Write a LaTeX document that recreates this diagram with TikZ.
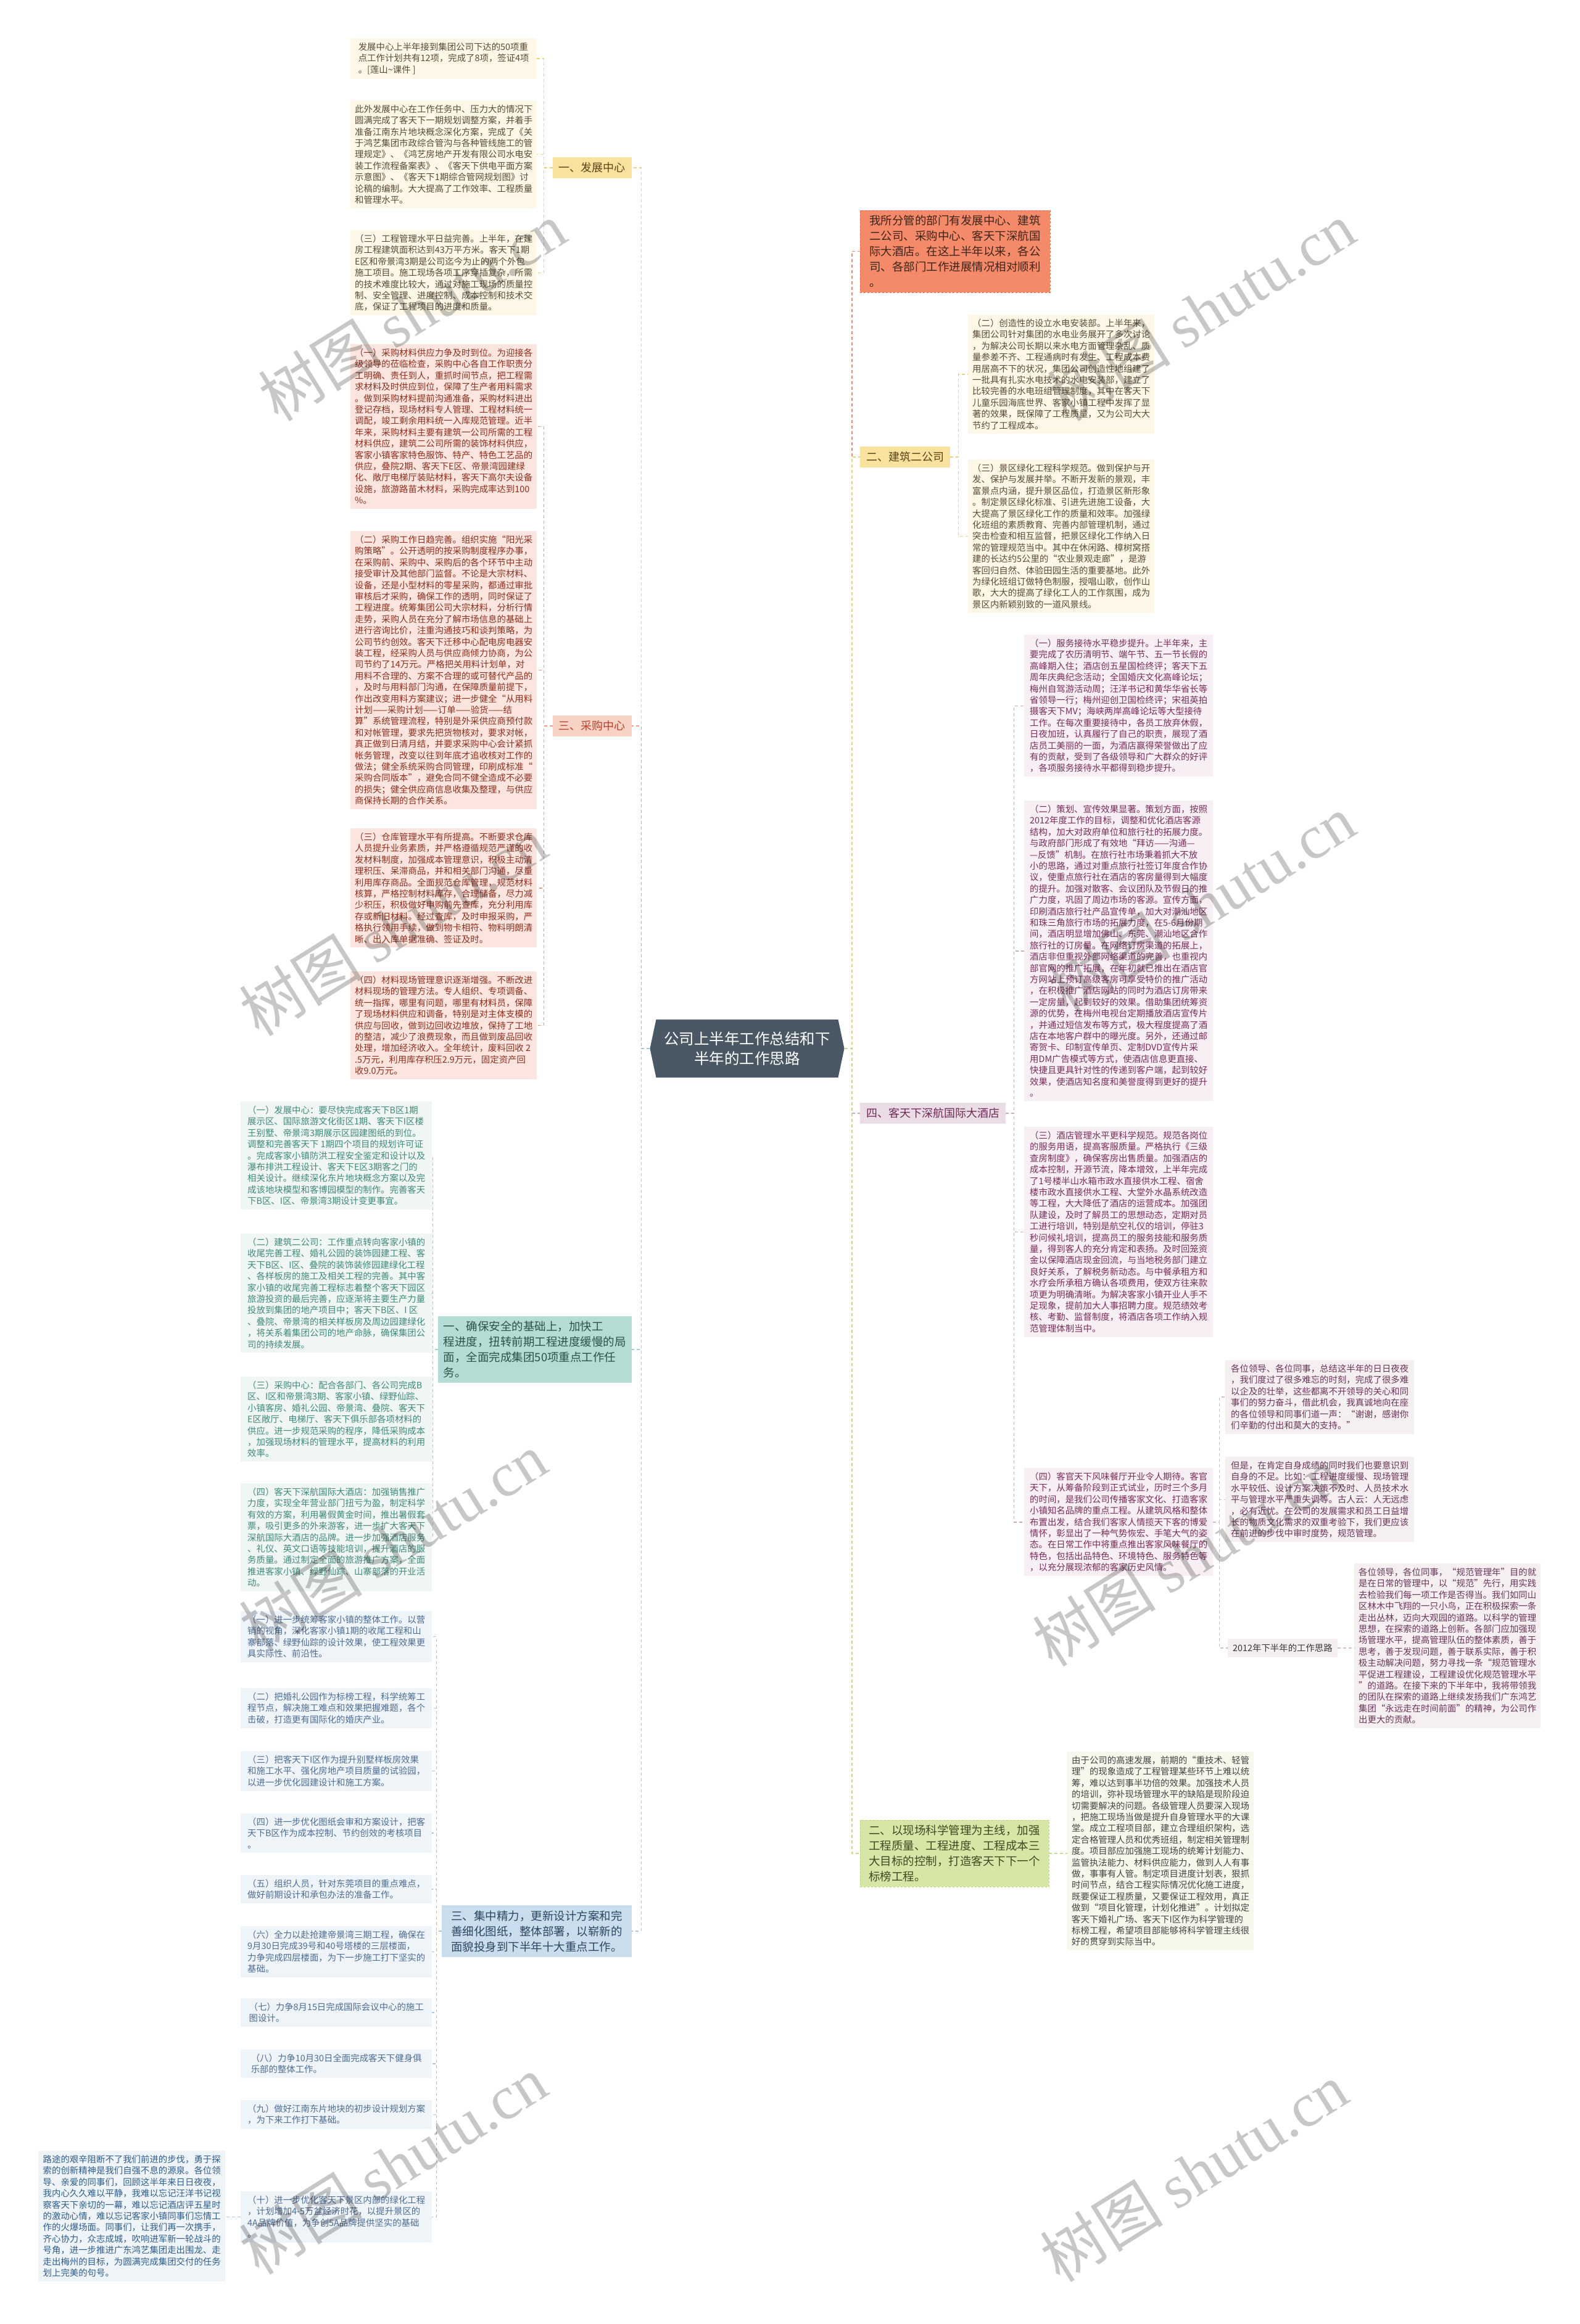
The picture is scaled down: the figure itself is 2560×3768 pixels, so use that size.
\documentclass[tikz,border=0pt]{standalone}
\usepackage{fontspec}
\setmainfont{Noto Sans CJK SC}
\newfontfamily\wmserif{Liberation Serif}
\usetikzlibrary{shapes.misc,shapes.symbols}
\definecolor{ylwbg}{HTML}{FCF7E7}
\definecolor{ylwtx}{HTML}{5B4B35}
\definecolor{ylwnode}{HTML}{F9E29E}
\definecolor{ylwnodetx}{HTML}{5A4418}
\definecolor{ylwline}{HTML}{E6D27A}
\definecolor{redbg}{HTML}{FCE5DE}
\definecolor{redtx}{HTML}{8E2F1F}
\definecolor{rednode}{HTML}{F9D2C6}
\definecolor{rednodetx}{HTML}{B8412A}
\definecolor{redline}{HTML}{EB9C86}
\definecolor{orgfill}{HTML}{F58A6B}
\definecolor{orgdraw}{HTML}{E8694A}
\definecolor{orgtx}{HTML}{3E2418}
\definecolor{purbg}{HTML}{F7EFF3}
\definecolor{purtx}{HTML}{7A2D5B}
\definecolor{purnode}{HTML}{EBDDE6}
\definecolor{purnodetx}{HTML}{6E2A55}
\definecolor{purline}{HTML}{CDA9C0}
\definecolor{pinkbg}{HTML}{F5EFF2}
\definecolor{pinktx}{HTML}{6B3558}
\definecolor{grnnode}{HTML}{D6E6A6}
\definecolor{grndraw}{HTML}{BBD37A}
\definecolor{grnnodetx}{HTML}{3F4A22}
\definecolor{grnbg}{HTML}{F6F8EC}
\definecolor{grntx}{HTML}{444444}
\definecolor{grnline}{HTML}{C6DA8D}
\definecolor{tealnode}{HTML}{B3DDD4}
\definecolor{tealnodetx}{HTML}{2E514A}
\definecolor{tealbg}{HTML}{F0F6F4}
\definecolor{tealtx}{HTML}{3F8A7A}
\definecolor{tealline}{HTML}{A0D2C6}
\definecolor{bluenode}{HTML}{CADDEC}
\definecolor{bluenodetx}{HTML}{2D4662}
\definecolor{bluebg}{HTML}{EFF4F9}
\definecolor{bluetx}{HTML}{4D6D95}
\definecolor{blueline}{HTML}{AAC4DC}
\definecolor{ltx}{HTML}{2F5E8E}
\definecolor{centerfill}{HTML}{4A5866}
\tikzset{
  blk/.style={align=left, inner xsep=7pt, inner ysep=7pt, anchor=north west,
    font=\fontsize{14.4pt}{18.4pt}\selectfont},
  yb/.style={blk, fill=ylwbg, text=ylwtx, minimum width=302pt},
  rb/.style={blk, fill=redbg, text=redtx, minimum width=302pt},
  pb/.style={blk, fill=purbg, text=purtx, minimum width=306pt},
  kb/.style={blk, fill=pinkbg, text=pinktx, minimum width=306pt},
  gb/.style={blk, fill=grnbg, text=grntx, minimum width=300pt},
  tb/.style={blk, fill=tealbg, text=tealtx, minimum width=310pt},
  bb/.style={blk, fill=bluebg, text=bluetx, minimum width=310pt},
  small/.style={inner xsep=10pt, inner ysep=9pt, font=\fontsize{18pt}{22pt}\selectfont},
  big/.style={align=left, inner xsep=9pt, inner ysep=8pt, font=\fontsize{18.5pt}{25pt}\selectfont},
  ln/.style={line width=1.6pt, dash pattern=on 5pt off 4pt},
  lny/.style={ln, draw=ylwline},
  lnr/.style={ln, draw=redline},
  lno/.style={ln, draw=orgdraw!80},
  lnp/.style={ln, draw=purline},
  lnk/.style={ln, draw=purline!80},
  lng/.style={ln, draw=grnline},
  lnt/.style={ln, draw=tealline},
  lnb/.style={ln, draw=blueline},
  wm/.style={rotate=32, text=black, text opacity=0.22, font=\fontsize{100pt}{100pt}\selectfont}
}
\begin{document}
\begin{tikzpicture}[x=1pt,y=-1pt]
\fill[white] (0,0) rectangle (2560,3768);
\useasboundingbox (0,0) rectangle (2560,3768);

% center
\node[signal, signal to=east and west, signal pointer angle=156, fill=centerfill, text=white, align=center,
  minimum width=315pt, minimum height=94pt, inner sep=4pt, font=\fontsize{24.5pt}{31.7pt}\selectfont]
  (c) at (1211,1700) {公司上半年工作总结和下\\半年的工作思路};

% ---------- left upper branches ----------
\node[small, fill=ylwnode, text=ylwnodetx, anchor=east] (Lb1) at (1024,272) {一、发展中心};
\node[small, fill=rednode, text=rednodetx, anchor=east] (Lb2) at (1024,1177) {三、采购中心};

\node[yb] (a1) at (568,62) {发展中心上半年接到集团公司下达的50项重\\点工作计划共有12项，完成了8项，签证4项\\。[莲山\textasciitilde 课件~]};
\node[yb] (a2) at (568,163) {此外发展中心在工作任务中、压力大的情况下\\圆满完成了客天下一期规划调整方案，并着手\\准备江南东片地块概念深化方案，完成了《关\\于鸿艺集团市政综合管沟与各种管线施工的管\\理规定》、《鸿艺房地产开发有限公司水电安\\装工作流程备案表》、《客天下供电平面方案\\示意图》、《客天下1期综合管网规划图》讨\\论稿的编制。大大提高了工作效率、工程质量\\和管理水平。};
\node[yb] (a3) at (568,373) {（三）工程管理水平日益完善。上半年，在建\\房工程建筑面积达到43万平方米。客天下1期\\E区和帝景湾3期是公司迄今为止的两个外包\\施工项目。施工现场各项工序穿插复杂，所需\\的技术难度比较大，通过对施工现场的质量控\\制、安全管理、进度控制、成本控制和技术交\\底，保证了工程项目的进度和质量。};

\node[rb] (p1) at (568,558) {（一）采购材料供应力争及时到位。为迎接各\\级领导的莅临检查，采购中心各自工作职责分\\工明确、责任到人，重抓时间节点，把工程需\\求材料及时供应到位，保障了生产者用料需求\\。做到采购材料提前沟通准备，采购材料进出\\登记存档，现场材料专人管理、工程材料统一\\调配，竣工剩余用料统一入库规范管理。近半\\年来，采购材料主要有建筑一公司所需的工程\\材料供应，建筑二公司所需的装饰材料供应，\\客家小镇客家特色服饰、特产、特色工艺品的\\供应，叠院2期、客天下E区、帝景湾园建绿\\化、敞厅电梯厅装贴材料，客天下高尔夫设备\\设施，旅游路苗木材料，采购完成率达到100\\\%。};
\node[rb] (p2) at (568,861) {（二）采购工作日趋完善。组织实施“阳光采\\购策略”。公开透明的按采购制度程序办事，\\在采购前、采购中、采购后的各个环节中主动\\接受审计及其他部门监督。不论是大宗材料、\\设备，还是小型材料的零星采购，都通过审批\\审核后才采购，确保工作的透明，同时保证了\\工程进度。统筹集团公司大宗材料，分析行情\\走势，采购人员在充分了解市场信息的基础上\\进行咨询比价，注重沟通技巧和谈判策略，为\\公司节约创效。客天下迁移中心配电房电器安\\装工程，经采购人员与供应商倾力协商，为公\\司节约了14万元。严格把关用料计划单，对\\用料不合理的、方案不合理的或可替代产品的\\，及时与用料部门沟通，在保障质量前提下，\\作出改变用料方案建议；进一步健全“从用料\\计划——采购计划——订单——验货——结\\算”系统管理流程，特别是外采供应商预付款\\和对帐管理，要求先把货物核对，要求对帐，\\真正做到日清月结，并要求采购中心会计紧抓\\帐务管理，改变以往到年底才追收核对工作的\\做法；健全系统采购合同管理，印刷成标准“\\采购合同版本”，避免合同不健全造成不必要\\的损失；健全供应商信息收集及整理，与供应\\商保持长期的合作关系。};
\node[rb] (p3) at (568,1343) {（三）仓库管理水平有所提高。不断要求仓库\\人员提升业务素质，并严格遵循规范严谨的收\\发材料制度，加强成本管理意识，积极主动清\\理积压、呆滞商品，并和相关部门沟通，尽量\\利用库存商品。全面规范仓库管理，规范材料\\核算，严格控制材料库存，合理储备，尽力减\\少积压，积极做好申购前先查库，充分利用库\\存或新旧材料。经过查库，及时申报采购，严\\格执行领用手续，做到物卡相符、物料明朗清\\晰、出入库单据准确、签证及时。};
\node[rb] (p4) at (568,1575) {（四）材料现场管理意识逐渐增强。不断改进\\材料现场的管理方法。专人组织、专项调备、\\统一指挥，哪里有问题，哪里有材料员，保障\\了现场材料供应和调备，特别是对主体支模的\\供应与回收，做到边回收边堆放，保持了工地\\的整洁，减少了浪费现象，而且做到废品回收\\处理，增加经济收入。全年统计，废料回收~2\\.5万元，利用库存积压2.9万元，固定资产回\\收9.0万元。};

% ---------- left lower branches ----------
\node[big, fill=tealnode, text=tealnodetx, anchor=east, minimum width=308pt] (Lb3) at (1024,2188) {一、确保安全的基础上，加快工\\程进度，扭转前期工程进度缓慢的局\\面，全面完成集团50项重点工作任\\务。};
\node[big, fill=bluenode, text=bluenodetx, anchor=east, minimum width=308pt] (Lb4) at (1024,3131) {三、集中精力，更新设计方案和完\\善细化图纸，整体部署，以崭新的\\面貌投身到下半年十大重点工作。};

\node[tb] (d1) at (390,1786) {（一）发展中心：要尽快完成客天下B区1期\\展示区、国际旅游文化街区1期、客天下I区楼\\王别墅、帝景湾3期展示区园建图纸的到位。\\调整和完善客天下~1期四个项目的规划许可证\\。完成客家小镇防洪工程安全鉴定和设计以及\\瀑布排洪工程设计、客天下E区3期客之门的\\相关设计。继续深化东片地块概念方案以及完\\成该地块模型和客博园模型的制作。完善客天\\下B区、I区、帝景湾3期设计变更事宜。};
\node[tb] (d2) at (390,2000) {（二）建筑二公司：工作重点转向客家小镇的\\收尾完善工程、婚礼公园的装饰园建工程、客\\天下B区、I区、叠院的装饰装修园建绿化工程\\、各样板房的施工及相关工程的完善。其中客\\家小镇的收尾完善工程标志着整个客天下园区\\旅游投资的最后完善，应逐渐将主要生产力量\\投放到集团的地产项目中；客天下B区、I~区\\、叠院、帝景湾的相关样板房及周边园建绿化\\，将关系着集团公司的地产命脉，确保集团公\\司的持续发展。};
\node[tb] (d3) at (390,2232) {（三）采购中心：配合各部门、各公司完成B\\区、I区和帝景湾3期、客家小镇、绿野仙踪、\\小镇客房、婚礼公园、帝景湾、叠院、客天下\\E区敞厅、电梯厅、客天下俱乐部各项材料的\\供应。进一步规范采购的程序，降低采购成本\\，加强现场材料的管理水平，提高材料的利用\\效率。};
\node[tb] (d4) at (390,2405) {（四）客天下深航国际大酒店：加强销售推广\\力度，实现全年营业部门扭亏为盈，制定科学\\有效的方案，利用暑假黄金时间，推出暑假套\\票，吸引更多的外来游客，进一步扩大客天下\\深航国际大酒店的品牌。进一步加强酒店服务\\、礼仪、英文口语等技能培训，提升酒店的服\\务质量。通过制定全面的旅游推广方案，全面\\推进客家小镇、绿野仙踪、山寨部落的开业活\\动。};

\node[bb] (t1) at (390,2612) {（一）进一步统筹客家小镇的整体工作。以营\\销的视角，深化客家小镇1期的收尾工程和山\\寨部落、绿野仙踪的设计效果，使工程效果更\\具实际性、前沿性。};
\node[bb] (t2) at (390,2737) {（二）把婚礼公园作为标榜工程，科学统筹工\\程节点，解决施工难点和效果把握难题，各个\\击破，打造更有国际化的婚庆产业。};
\node[bb] (t3) at (390,2839) {（三）把客天下I区作为提升别墅样板房效果\\和施工水平、强化房地产项目质量的试验园，\\以进一步优化园建设计和施工方案。};
\node[bb] (t4) at (390,2940) {（四）进一步优化图纸会审和方案设计，把客\\天下B区作为成本控制、节约创效的考核项目\\。};
\node[bb] (t5) at (390,3040) {（五）组织人员，针对东莞项目的重点难点，\\做好前期设计和承包办法的准备工作。};
\node[bb] (t6) at (390,3123) {（六）全力以赴抢建帝景湾三期工程，确保在\\9月30日完成39号和40号塔楼的三层楼面，\\力争完成四层楼面，为下一步施工打下坚实的\\基础。};
\node[bb] (t7) at (390,3240) {（七）力争8月15日完成国际会议中心的施工\\图设计。};
\node[bb] (t8) at (390,3323) {（八）力争10月30日全面完成客天下健身俱\\乐部的整体工作。};
\node[bb] (t9) at (390,3405) {（九）做好江南东片地块的初步设计规划方案\\，为下来工作打下基础。};
\node[bb] (t10) at (390,3553) {（十）进一步优化客天下景区内部的绿化工程\\，计划增加\mbox{4-5}万盆经济时花，以提升景区的\\4A品牌价值，为争创5A品牌提供坚实的基础\\。};
\node[blk, fill=bluebg, text=ltx, minimum width=303pt] (lt) at (62,3487) {路途的艰辛阻断不了我们前进的步伐，勇于探\\索的创新精神是我们自强不息的源泉。各位领\\导、亲爱的同事们，回顾这半年来日日夜夜，\\我内心久久难以平静，我难以忘记汪洋书记视\\察客天下亲切的一幕，难以忘记酒店评五星时\\的激动心情，难以忘记客家小镇同事们忘情工\\作的火爆场面。同事们，让我们再一次携手，\\齐心协力，众志成城，吹响进军新一轮战斗的\\号角，进一步推进广东鸿艺集团走出围龙、走\\走出梅州的目标，为圆满完成集团交付的任务\\划上完美的句号。};

% ---------- right branches ----------
\node[big, fill=orgfill, draw=orgdraw, dashed, text=orgtx, anchor=north west, minimum width=308pt] (Rb1) at (1394,341) {我所分管的部门有发展中心、建筑\\二公司、采购中心、客天下深航国\\际大酒店。在这上半年以来，各公\\司、各部门工作进展情况相对顺利\\。};
\node[small, fill=ylwnode, text=ylwnodetx, anchor=west] (Rb2) at (1394,741) {二、建筑二公司};
\node[small, fill=purnode, text=purnodetx, anchor=west] (Rb3) at (1394,1805) {四、客天下深航国际大酒店};
\node[big, fill=grnnode, draw=grndraw, dashed, text=grnnodetx, anchor=west, minimum width=306pt] (Rb4) at (1394,3005) {二、以现场科学管理为主线，加强\\工程质量、工程进度、工程成本三\\大目标的控制，打造客天下下一个\\标榜工程。};

\node[yb, minimum width=300pt] (j2) at (1569,510) {（二）创造性的设立水电安装部。上半年来，\\集团公司针对集团的水电业务展开了多次讨论\\，为解决公司长期以来水电方面管理杂乱、质\\量参差不齐、工程通病时有发生、工程成本费\\用居高不下的状况，集团公司创造性地组建了\\一批具有扎实水电技术的水电安装部，建立了\\比较完善的水电班组管理制度，其中在客天下\\儿童乐园海底世界、客家小镇工程中发挥了显\\著的效果，既保障了工程质量，又为公司大大\\节约了工程成本。};
\node[yb, minimum width=300pt] (j3) at (1569,745) {（三）景区绿化工程科学规范。做到保护与开\\发、保护与发展并举。不断开发新的景观，丰\\富景点内涵，提升景区品位，打造景区新形象\\。制定景区绿化标准、引进先进施工设备，大\\大提高了景区绿化工作的质量和效率。加强绿\\化班组的素质教育、完善内部管理机制，通过\\突击检查和相互监督，把景区绿化工作纳入日\\常的管理规范当中。其中在休闲路、樟树窝搭\\建的长达约5公里的“农业景观走廊”，是游\\客回归自然、体验田园生活的重要基地。此外\\为绿化班组订做特色制服，授唱山歌，创作山\\歌，大大的提高了绿化工人的工作氛围，成为\\景区内新颖别致的一道风景线。};

\node[pb] (h1) at (1660,1029) {（一）服务接待水平稳步提升。上半年来，主\\要完成了农历清明节、端午节、五一节长假的\\高峰期入住；酒店创五星国检终评；客天下五\\周年庆典纪念活动；全国婚庆文化高峰论坛；\\梅州自驾游活动周；汪洋书记和黄华华省长等\\省领导一行；梅州迎创卫国检终评；宋祖英拍\\摄客天下MV；海峡两岸高峰论坛等大型接待\\工作。在每次重要接待中，各员工放弃休假，\\日夜加班，认真履行了自己的职责，展现了酒\\店员工美丽的一面，为酒店赢得荣誉做出了应\\有的贡献，受到了各级领导和广大群众的好评\\，各项服务接待水平都得到稳步提升。};
\node[pb] (h2) at (1660,1298) {（二）策划、宣传效果显著。策划方面，按照\\2012年度工作的目标，调整和优化酒店客源\\结构，加大对政府单位和旅行社的拓展力度。\\与政府部门形成了有效地“拜访——沟通—\\—反馈”机制。在旅行社市场秉着抓大不放\\小的思路，通过对重点旅行社签订年度合作协\\议，使重点旅行社在酒店的客房量得到大幅度\\的提升。加强对散客、会议团队及节假日的推\\广力度，巩固了周边市场的客源。宣传方面，\\印刷酒店旅行社产品宣传单，加大对潮汕地区\\和珠三角旅行市场的拓展力度，在\mbox{5-6}月份期\\间，酒店明显增加佛山、东莞、潮汕地区合作\\旅行社的订房量。在网络订房渠道的拓展上，\\酒店非但重视外部网络渠道的完善，也重视内\\部官网的推广拓展，在年初就已推出在酒店官\\方网站上预订高级客房可享受特价的推广活动\\，在积极推广酒店网站的同时为酒店订房带来\\一定房量，起到较好的效果。借助集团统筹资\\源的优势，在梅州电视台定期播放酒店宣传片\\，并通过短信发布等方式，极大程度提高了酒\\店在本地客户群中的曝光度。另外，还通过邮\\寄贺卡、印制宣传单页、定制DVD宣传片采\\用DM广告模式等方式，使酒店信息更直接、\\快捷且更具针对性的传递到客户端，起到较好\\效果，使酒店知名度和美誉度得到更好的提升\\。};
\node[pb] (h3) at (1660,1827) {（三）酒店管理水平更科学规范。规范各岗位\\的服务用语，提高客服质量。严格执行《三级\\查房制度》，确保客房出售质量。加强酒店的\\成本控制，开源节流，降本增效，上半年完成\\了1号楼半山水箱市政水直接供水工程、宿舍\\楼市政水直接供水工程、大堂外水晶系统改造\\等工程，大大降低了酒店的运营成本。加强团\\队建设，及时了解员工的思想动态，定期对员\\工进行培训，特别是航空礼仪的培训，停驻3\\秒问候礼培训，提高员工的服务技能和服务质\\量，得到客人的充分肯定和表扬。及时回笼资\\金以保障酒店现金回流，与当地税务部门建立\\良好关系，了解税务新动态。与中餐承租方和\\水疗会所承租方确认各项费用，使双方往来款\\项更为明确清晰。为解决客家小镇开业人手不\\足现象，提前加大人事招聘力度。规范绩效考\\核、考勤、监督制度，将酒店各项工作纳入规\\范管理体制当中。};
\node[pb] (h4) at (1660,2380) {（四）客官天下风味餐厅开业令人期待。客官\\天下，从筹备阶段到正式试业，历时三个多月\\的时间，是我们公司传播客家文化、打造客家\\小镇知名品牌的重点工程。从建筑风格和整体\\布置出发，结合我们客家人情揽天下客的博爱\\情怀，彰显出了一种气势恢宏、手笔大气的姿\\态。在日常工作中将重点推出客家风味餐厅的\\特色，包括出品特色、环境特色、服务特色等\\，以充分展现浓郁的客家历史风情。};

\node[kb] (g1) at (1986,2205) {各位领导、各位同事，总结这半年的日日夜夜\\，我们度过了很多难忘的时刻，完成了很多难\\以企及的壮举，这些都离不开领导的关心和同\\事们的努力奋斗，借此机会，我真诚地向在座\\的各位领导和同事们道一声：“谢谢，感谢你\\们辛勤的付出和莫大的支持。”};
\node[kb] (g2) at (1986,2362) {但是，在肯定自身成绩的同时我们也要意识到\\自身的不足。比如：工程进度缓慢、现场管理\\水平较低、设计方案决策不及时、人员技术水\\平与管理水平严重失调等。古人云：人无远虑\\，必有近忧。在公司的发展需求和员工日益增\\长的物质文化需求的双重考验下，我们更应该\\在前进的步伐中审时度势，规范管理。};
\node[fill=pinkbg, text=black!78, inner xsep=8pt, inner ysep=8pt, anchor=west,
  font=\fontsize{14.4pt}{18.4pt}\selectfont] (n2012) at (1990,2672) {2012年下半年的工作思路};
\node[kb, minimum width=302pt] (gf) at (2195,2535) {各位领导，各位同事，“规范管理年”目的就\\是在日常的管理中，以“规范”先行，用实践\\去检验我们每一项工作是否得当。我们如同山\\区林木中飞翔的一只小鸟，正在积极探索一条\\走出丛林，迈向大观园的道路。以科学的管理\\思想，在探索的道路上创新。各部门应加强现\\场管理水平，提高管理队伍的整体素质，善于\\思考，善于发现问题，善于联系实际，善于积\\极主动解决问题，努力寻找一条“规范管理水\\平促进工程建设，工程建设优化规范管理水平\\”的道路。在接下来的下半年中，我将带领我\\的团队在探索的道路上继续发扬我们广东鸿艺\\集团“永远走在时间前面”的精神，为公司作\\出更大的贡献。};

\node[gb] (yu) at (1730,2840) {由于公司的高速发展，前期的“重技术、轻管\\理”的现象造成了工程管理某些环节上难以统\\筹，难以达到事半功倍的效果。加强技术人员\\的培训，弥补现场管理水平的缺陷是现阶段迫\\切需要解决的问题。各级管理人员要深入现场\\，把施工现场当做是提升自身管理水平的大课\\堂。成立工程项目部，建立合理组织架构，选\\定合格管理人员和优秀班组，制定相关管理制\\度。项目部应加强施工现场的统筹计划能力、\\监管执法能力、材料供应能力，做到人人有事\\做，事事有人管。制定项目进度计划表，狠抓\\时间节点，结合工程实际情况优化施工进度，\\既要保证工程质量，又要保证工程效用，真正\\做到“项目化管理，计划化推进”。计划拟定\\客天下婚礼广场、客天下I区作为科学管理的\\标榜工程，希望项目部能够将科学管理主线很\\好的贯穿到实际当中。};

% ---------- connectors ----------
\draw[lny] (c.west) -- ++(-14,0) |- (Lb1.east);
\draw[lnr] (c.west) -- ++(-14,0) |- (Lb2.east);
\draw[lnt] (c.west) -- ++(-14,0) |- (Lb3.east);
\draw[lnb] (c.west) -- ++(-14,0) |- (Lb4.east);
\draw[lno] (c.east) -- ++(12,0) |- (Rb1.west);
\draw[lny] (c.east) -- ++(12,0) |- (Rb2.west);
\draw[lnp] (c.east) -- ++(12,0) |- (Rb3.west);
\draw[lng] (c.east) -- ++(12,0) |- (Rb4.west);

\foreach \n in {a1,a2,a3} \draw[lny] (Lb1.west) -- ++(-14,0) |- (\n.east);
\foreach \n in {p1,p2,p3,p4} \draw[lnr] (Lb2.west) -- ++(-14,0) |- (\n.east);
\foreach \n in {d1,d2,d3,d4} \draw[lnt] (Lb3.west) -- ++(-8,0) |- (\n.east);
\foreach \n in {t1,t2,t3,t4,t5,t6,t7,t8,t9,t10} \draw[lnb] (Lb4.west) -- ++(-8,0) |- (\n.east);
\draw[lnb] (t10.west) -- (lt.east |- t10.west);
\foreach \n in {j2,j3} \draw[lny] (Rb2.east) -- ++(13,0) |- (\n.west);
\foreach \n in {h1,h2,h3,h4} \draw[lnp] (Rb3.east) -- ++(13,0) |- (\n.west);
\foreach \n in {g1,g2,n2012} \draw[lnk] (h4.east) -- ++(10,0) |- (\n.west);
\draw[lnk] (n2012.east) -- (gf.west |- n2012.east);
\draw[lng] (Rb4.east) -- (yu.west |- Rb4.east);

% ---------- watermarks ----------
\foreach \p in {(668,505),(1947,505),(637,1502),(1947,1466),(637,2500),(1923,2524),(637,3510),(1935,3522)}
  \node[wm] at \p {树图 {\wmserif shutu.cn}};
\end{tikzpicture}
\end{document}
